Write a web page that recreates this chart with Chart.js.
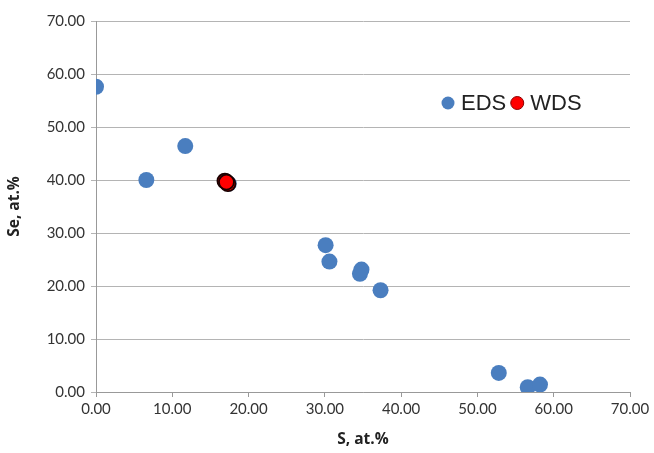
<!DOCTYPE html>
<html>
<head>
<meta charset="utf-8">
<script src="https://cdn.jsdelivr.net/npm/chart.js@4"></script>
<style>
html,body{margin:0;padding:0;background:#fff;}
#wrap{width:654px;height:453px;}
</style>
</head>
<body>
<div id="wrap"><canvas id="c" width="654" height="453"></canvas></div>
<script>
const edsS  = [0.0, 6.6, 11.7, 17.4, 30.1, 30.6, 34.6, 34.8, 37.3, 52.8, 56.6, 58.2];
const edsSe = [57.6, 40.0, 46.4, 39.3, 27.7, 24.6, 22.3, 23.1, 19.2, 3.6, 0.9, 1.4];
const wdsS  = [16.9, 17.3, 17.1];
const wdsSe = [39.8, 39.3, 39.6];
const xTicks = [0, 10, 20, 30, 40, 50, 60, 70];
const yTicks = [0, 10, 20, 30, 40, 50, 60, 70];
const seriesNames = ['EDS', 'WDS'];

const toPts = (xs, ys) => xs.map((x, i) => ({x: x, y: ys[i]}));
const FONT = "Lato, 'Open Sans', sans-serif";
const TFONT = "'Open Sans', Lato, sans-serif";

const legendPlugin = {
  id: 'customLegend',
  afterDraw(chart) {
    const ctx = chart.ctx;
    ctx.save();
    ctx.font = "22px 'Liberation Sans', Arial, sans-serif";
    ctx.textBaseline = 'middle';
    ctx.textAlign = 'left';
    let x = 448, y = 103;
    chart.data.datasets.forEach((ds, i) => {
      ctx.beginPath();
      ctx.arc(x, y, 6.5, 0, Math.PI * 2);
      ctx.fillStyle = ds.backgroundColor;
      ctx.fill();
      if (i === 1) { ctx.lineWidth = 1; ctx.strokeStyle = '#8b0000'; ctx.stroke(); }
      ctx.fillStyle = '#222';
      ctx.fillText(ds.label, x + 13, y + 1);
      x += 13 + ctx.measureText(ds.label).width + 11;
    });
    ctx.restore();
  }
};

new Chart(document.getElementById('c'), {
  type: 'scatter',
  data: {
    datasets: [
      {label: seriesNames[0], order: 1, data: toPts(edsS, edsSe), backgroundColor: '#4a7ebf', borderColor: '#4a7ebf', pointRadius: 8, pointHoverRadius: 8, borderWidth: 0},
      {label: seriesNames[1], order: 0, data: toPts(wdsS, wdsSe), backgroundColor: '#ff0000', borderColor: '#1a0000', pointRadius: 7.5, pointHoverRadius: 7.5, borderWidth: 1.8}
    ]
  },
  options: {
    responsive: false,
    animation: false,
    devicePixelRatio: 1,
    layout: {padding: {top: 21, right: 24, left: 0, bottom: 0}},
    plugins: {legend: {display: false}, tooltip: {enabled: false}},
    scales: {
      x: {
        type: 'linear', min: 0, max: 70,
        afterBuildTicks: (s) => { s.ticks = xTicks.map(v => ({value: v})); },
        afterFit: (s) => { s.height = 61; },
        ticks: {color: '#333', font: {family: FONT, size: 15}, padding: 3, callback: v => v.toFixed(2)},
        grid: {drawOnChartArea: false, color: '#999', tickLength: 5},
        border: {color: '#999', width: 1},
        title: {display: true, text: 'S, at.%', color: '#222', font: {family: TFONT, size: 15.5, weight: 'bold'}, padding: {top: 2}}
      },
      y: {
        type: 'linear', min: 0, max: 70,
        afterBuildTicks: (s) => { s.ticks = yTicks.map(v => ({value: v})); },
        afterFit: (s) => { s.width = 96; },
        ticks: {color: '#333', font: {family: FONT, size: 15}, padding: 6, callback: v => v.toFixed(2)},
        grid: {color: '#b4b4b4', tickLength: 5, lineWidth: 1},
        border: {color: '#999', width: 1},
        title: {display: true, text: 'Se, at.%', color: '#222', font: {family: TFONT, size: 15.5, weight: 'bold'}, padding: {top: 5, bottom: 0}}
      }
    }
  },
  plugins: [legendPlugin]
});
</script>
</body>
</html>
